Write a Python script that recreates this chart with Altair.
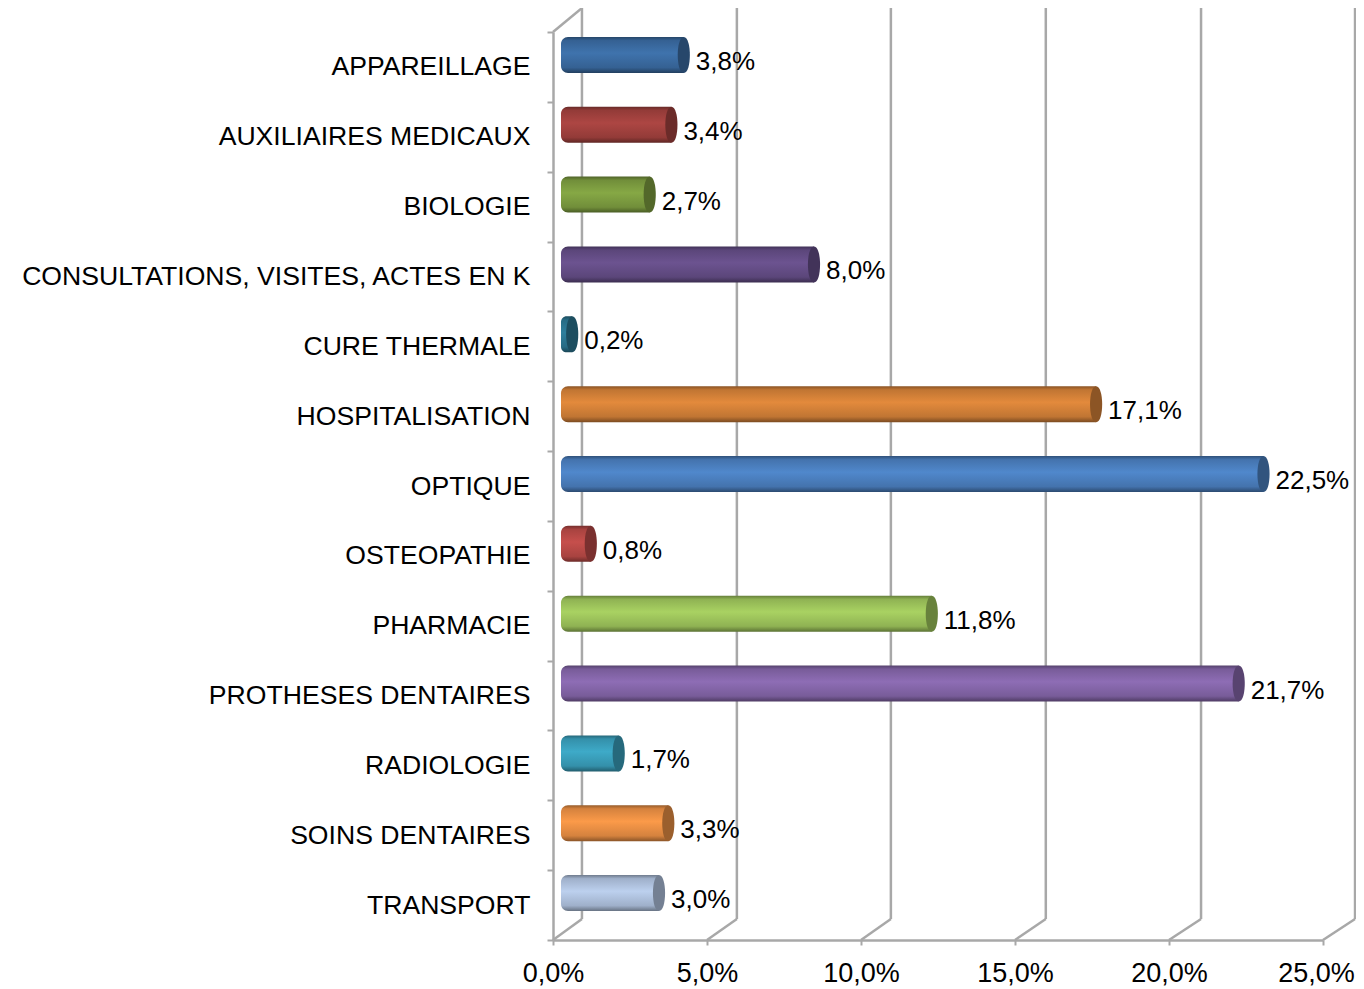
import altair as alt
import pandas as pd

categories = ["APPAREILLAGE", "AUXILIAIRES MEDICAUX", "BIOLOGIE", "CONSULTATIONS, VISITES, ACTES EN K",
              "CURE THERMALE", "HOSPITALISATION", "OPTIQUE", "OSTEOPATHIE", "PHARMACIE",
              "PROTHESES DENTAIRES", "RADIOLOGIE", "SOINS DENTAIRES", "TRANSPORT"]
values = [3.8, 3.4, 2.7, 8.0, 0.2, 17.1, 22.5, 0.8, 11.8, 21.7, 1.7, 3.3, 3.0]
value_labels = ["3,8%", "3,4%", "2,7%", "8,0%", "0,2%", "17,1%", "22,5%", "0,8%", "11,8%", "21,7%", "1,7%", "3,3%", "3,0%"]
colors = ["#3f73ad", "#ad4643", "#86a845", "#6c5390", "#2f7f9c", "#e38a3c", "#5088cc", "#c64f4c",
          "#a9d262", "#8e6db5", "#3eaac8", "#fb9a49", "#bcd0ee"]
ticks = [0, 5, 10, 15, 20, 25]
back_ticks = [0.94, 5.97, 10.97, 16.0, 21.04, 26.04]

GREY = "#a8a8a8"
FONT = "Liberation Sans"
W, H = 770, 908


def shade(hex_color, k):
    r, g, b = (int(hex_color[i:i + 2], 16) for i in (1, 3, 5))
    return "#%02x%02x%02x" % (int(r * k), int(g * k), int(b * k))


def cylinder(c):
    return alt.Gradient(
        gradient="linear", x1=0, y1=0, x2=0, y2=1,
        stops=[alt.GradientStop(offset=0, color=shade(c, 0.6)),
               alt.GradientStop(offset=0.1, color=shade(c, 0.85)),
               alt.GradientStop(offset=0.45, color=c),
               alt.GradientStop(offset=0.85, color=shade(c, 0.85)),
               alt.GradientStop(offset=1, color=shade(c, 0.55))])


walls = pd.DataFrame({"front": ticks, "back": back_ticks, "y_front": [13] * 6, "y_back": [12.7] * 6,
                      "top": [-0.343] * 6})
top_edge = pd.DataFrame({"front": [0], "back": [0.94], "y_front": [0], "y_back": [-0.343]})
x_front = alt.Scale(domain=[0, 25], nice=False, zero=False)
y_depth = alt.Scale(domain=[0, 13], reverse=True, nice=False, zero=False)
x_bar = alt.Scale(domain=[-8 / 31, (770 - 8) / 31], nice=False, zero=False)
y_cat = alt.Scale(domain=categories, paddingInner=0, paddingOuter=0)

back_wall = alt.Chart(walls).mark_rule(color=GREY, strokeWidth=2.5).encode(
    x=alt.X("back:Q", scale=x_front, axis=None),
    y=alt.Y("top:Q", scale=y_depth, axis=None),
    y2="y_back:Q")
floor = alt.Chart(walls).mark_rule(color=GREY, strokeWidth=2.5).encode(
    x=alt.X("front:Q", scale=x_front, axis=None),
    x2="back:Q",
    y=alt.Y("y_front:Q", scale=y_depth, axis=None),
    y2="y_back:Q")
top = alt.Chart(top_edge).mark_rule(color=GREY, strokeWidth=2.5).encode(
    x=alt.X("front:Q", scale=x_front, axis=None),
    x2="back:Q",
    y=alt.Y("y_front:Q", scale=y_depth, axis=None),
    y2="y_back:Q")

axes = alt.Chart(pd.DataFrame({"c": categories, "v": values})).mark_point(opacity=0).encode(
    x=alt.X("v:Q", scale=x_front, axis=alt.Axis(
        orient="bottom", values=ticks, title=None, grid=False, labelFont=FONT, labelFontSize=27,
        labelColor="#000000", domainColor=GREY, domainWidth=2.5, tickColor=GREY, tickWidth=2, tickSize=5,
        labelPadding=15, labelFlush=False, labelOverlap=False,
        labelOffset=alt.expr("datum.value == 25 ? -7 : 0"),
        labelExpr="replace(format(datum.value, '.1f'), '.', ',') + '%'")),
    y=alt.Y("c:N", scale=y_cat, sort=None, axis=alt.Axis(
        orient="left", title=None, grid=False, labelFont=FONT, labelFontSize=26.6, labelColor="#000000",
        domainColor=GREY, domainWidth=2.5, tickColor=GREY, tickWidth=2, tickSize=6, tickBand="extent",
        labelPadding=17, labelLimit=600)))

layers = [back_wall, floor, top, axes]
CAP = "M0,-1 C0.45,-1 0.45,1 0,1 C-0.45,1 -0.45,-1 0,-1 Z"
for c, v, lab, col in zip(categories, values, value_labels, colors):
    df = pd.DataFrame({"c": [c], "v": [v], "base": [0], "label": [lab]})
    y = alt.Y("c:N", scale=y_cat, sort=None, axis=None)
    x = alt.X("v:Q", scale=x_bar, axis=None)
    layers.append(alt.Chart(df).mark_bar(size=36, yOffset=-12, xOffset=5, cornerRadiusTopLeft=7,
                                         cornerRadiusBottomLeft=7,
                                         fill=cylinder(col)).encode(x=x, x2="base:Q", y=y))
    layers.append(alt.Chart(df).mark_point(shape=CAP, size=1296, filled=True, opacity=1, fill=shade(col, 0.62),
                                           strokeWidth=0, yOffset=-12, xOffset=5).encode(x=x, y=y))
    layers.append(alt.Chart(df).mark_text(align="left", baseline="middle", font=FONT, fontSize=26, color="#000000",
                                          xOffset=17, yOffset=-5).encode(x=x, y=y, text="label:N"))

chart = alt.layer(*layers).resolve_scale(x="independent", y="independent").properties(
    width=W, height=H, autosize=alt.AutoSizeParams(type="none"),
    padding={"left": 545, "top": 24, "right": 33, "bottom": 50},
    background="#ffffff"
).configure_view(stroke=None)

chart.save("out.html", embed_options={"renderer": "svg", "actions": False})
